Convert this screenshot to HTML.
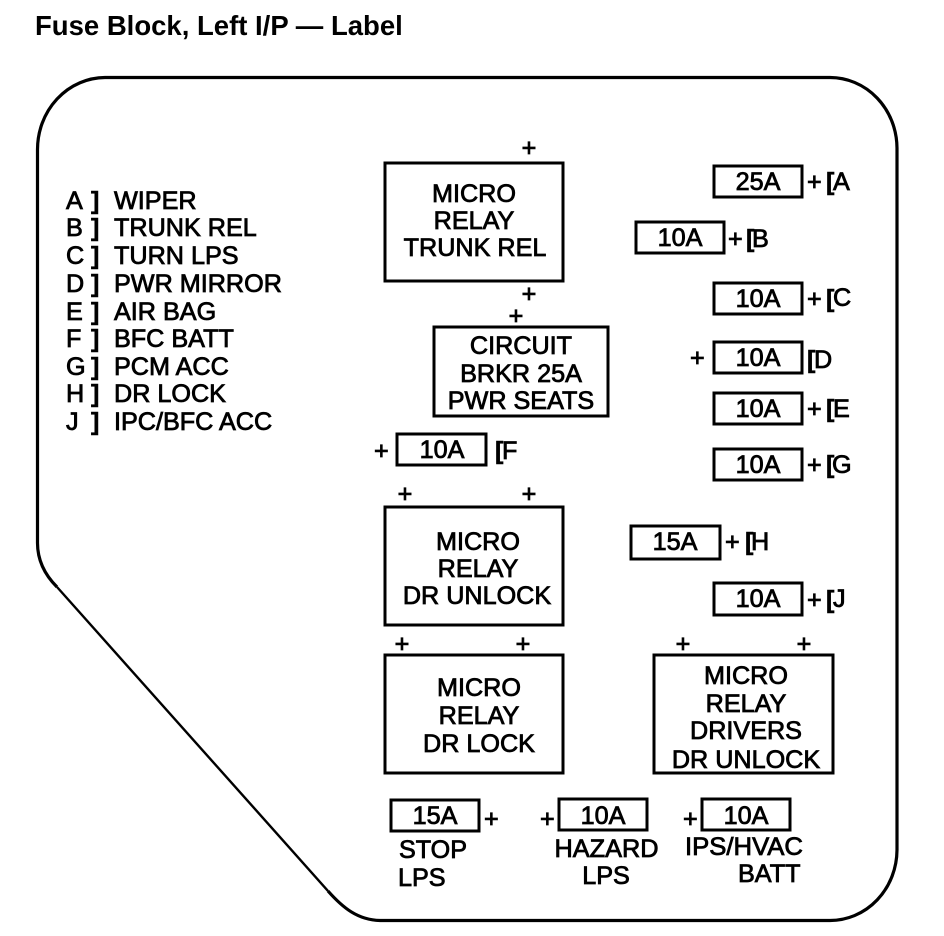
<!DOCTYPE html>
<html><head><meta charset="utf-8"><style>
html,body{margin:0;padding:0;background:#fff}
svg{display:block}
text{font-family:"Liberation Sans",Arial,sans-serif;font-size:25.2px;fill:#000;stroke:#000;stroke-width:.8px}
.c{text-anchor:middle}
.b{font-weight:bold;stroke-width:.5px}
rect{fill:#fff;stroke:#000;stroke-width:3}
</style></head><body>
<svg width="944" height="936" viewBox="0 0 944 936" xmlns="http://www.w3.org/2000/svg">
<text x="35" y="35" style="font-size:27.5px;font-weight:bold;stroke:none">Fuse Block, Left I/P — Label</text>
<path d="M328 891C343 908 358 920 380 920.5H830A67 71 0 0 0 897 850V148A67 71 0 0 0 830 77.5H105A68 72 0 0 0 37.5 150V543C37.5 560 45 575 57 587" fill="none" stroke="#000" stroke-width="3.2"/>
<path d="M57 587L328 891" fill="none" stroke="#000" stroke-width="2.4"/>

<g>
<text x="66" y="209">A</text><text class="b" x="91" y="209">]</text><text x="114" y="209">WIPER</text>
<text x="66" y="236">B</text><text class="b" x="91" y="236">]</text><text x="114" y="236">TRUNK REL</text>
<text x="66" y="264">C</text><text class="b" x="91" y="264">]</text><text x="114" y="264">TURN LPS</text>
<text x="66" y="292">D</text><text class="b" x="91" y="292">]</text><text x="114" y="292">PWR MIRROR</text>
<text x="66" y="320">E</text><text class="b" x="91" y="320">]</text><text x="114" y="320">AIR BAG</text>
<text x="66" y="347">F</text><text class="b" x="91" y="347">]</text><text x="114" y="347">BFC BATT</text>
<text x="66" y="375">G</text><text class="b" x="91" y="375">]</text><text x="114" y="375">PCM ACC</text>
<text x="66" y="402">H</text><text class="b" x="91" y="402">]</text><text x="114" y="402">DR LOCK</text>
<text x="66" y="430">J</text><text class="b" x="91" y="430">]</text><text x="114" y="430">IPC/BFC ACC</text>
</g>

<rect x="385" y="163" width="178" height="118"/>
<text class="c" x="474" y="202">MICRO</text><text class="c" x="474" y="229">RELAY</text><text class="c" x="475" y="256">TRUNK REL</text>
<text class="c" x="529" y="156">+</text><text class="c" x="529" y="302">+</text><text class="c" x="516" y="324">+</text>

<rect x="434" y="327" width="174" height="89"/>
<text class="c" x="521" y="354">CIRCUIT</text><text class="c" x="521" y="382">BRKR 25A</text><text class="c" x="521" y="409">PWR SEATS</text>

<rect x="397" y="434" width="89" height="31"/>
<text class="c" x="442" y="458">10A</text><text x="374" y="459">+</text><text class="b" x="495" y="459">[</text><text x="502" y="459">F</text>

<rect x="385" y="507" width="178" height="118"/>
<text class="c" x="478" y="550">MICRO</text><text class="c" x="478" y="577">RELAY</text><text class="c" x="477" y="604">DR UNLOCK</text>
<text class="c" x="405" y="502">+</text><text class="c" x="529" y="502">+</text>

<rect x="385" y="655" width="178" height="118"/>
<text class="c" x="479" y="696">MICRO</text><text class="c" x="479" y="724">RELAY</text><text class="c" x="479" y="752">DR LOCK</text>
<text class="c" x="402" y="652">+</text><text class="c" x="523" y="652">+</text>

<rect x="654" y="655" width="179" height="118"/>
<text class="c" x="746" y="684">MICRO</text><text class="c" x="746" y="712">RELAY</text><text class="c" x="746" y="739">DRIVERS</text><text class="c" x="746" y="768">DR UNLOCK</text>
<text class="c" x="683" y="652">+</text><text class="c" x="804" y="652">+</text>

<rect x="714" y="166" width="88" height="31"/><text class="c" x="758" y="190">25A</text><text x="807" y="190">+</text><text class="b" x="826" y="190">[</text><text x="833" y="190">A</text>
<rect x="636" y="222" width="88" height="31"/><text class="c" x="680" y="246">10A</text><text x="728" y="247">+</text><text class="b" x="746" y="247">[</text><text x="752" y="247">B</text>
<rect x="714" y="283" width="88" height="31"/><text class="c" x="758" y="307">10A</text><text x="807" y="307">+</text><text class="b" x="826" y="307">[</text><text x="833" y="306">C</text>
<rect x="714" y="342" width="88" height="31"/><text class="c" x="758" y="366">10A</text><text x="690" y="366">+</text><text class="b" x="807" y="368">[</text><text x="814" y="368">D</text>
<rect x="714" y="393" width="88" height="31"/><text class="c" x="758" y="417">10A</text><text x="807" y="417">+</text><text class="b" x="826" y="417">[</text><text x="833" y="417">E</text>
<rect x="714" y="449" width="88" height="31"/><text class="c" x="758" y="473">10A</text><text x="807" y="473">+</text><text class="b" x="826" y="473">[</text><text x="832" y="473">G</text>
<rect x="631" y="526" width="89" height="33"/><text class="c" x="675" y="550">15A</text><text x="725" y="550">+</text><text class="b" x="745" y="550">[</text><text x="751" y="550">H</text>
<rect x="714" y="583" width="88" height="32"/><text class="c" x="758" y="607">10A</text><text x="807" y="608">+</text><text class="b" x="826" y="608">[</text><text x="833" y="607">J</text>

<rect x="391" y="800" width="88" height="31"/><text class="c" x="435" y="824">15A</text><text x="484" y="827">+</text>
<rect x="559" y="799" width="88" height="31"/><text class="c" x="603" y="824">10A</text><text x="540" y="827">+</text>
<rect x="702" y="799" width="88" height="31"/><text class="c" x="746" y="824">10A</text><text x="683" y="827">+</text>

<text x="399" y="858" textLength="68" lengthAdjust="spacingAndGlyphs">STOP</text><text x="398" y="886">LPS</text>
<text class="c" x="606.5" y="857" textLength="104" lengthAdjust="spacingAndGlyphs">HAZARD</text><text class="c" x="606" y="884">LPS</text>
<text x="685" y="855" textLength="118" lengthAdjust="spacingAndGlyphs">IPS/HVAC</text><text x="738" y="882">BATT</text>
</svg>
</body></html>
